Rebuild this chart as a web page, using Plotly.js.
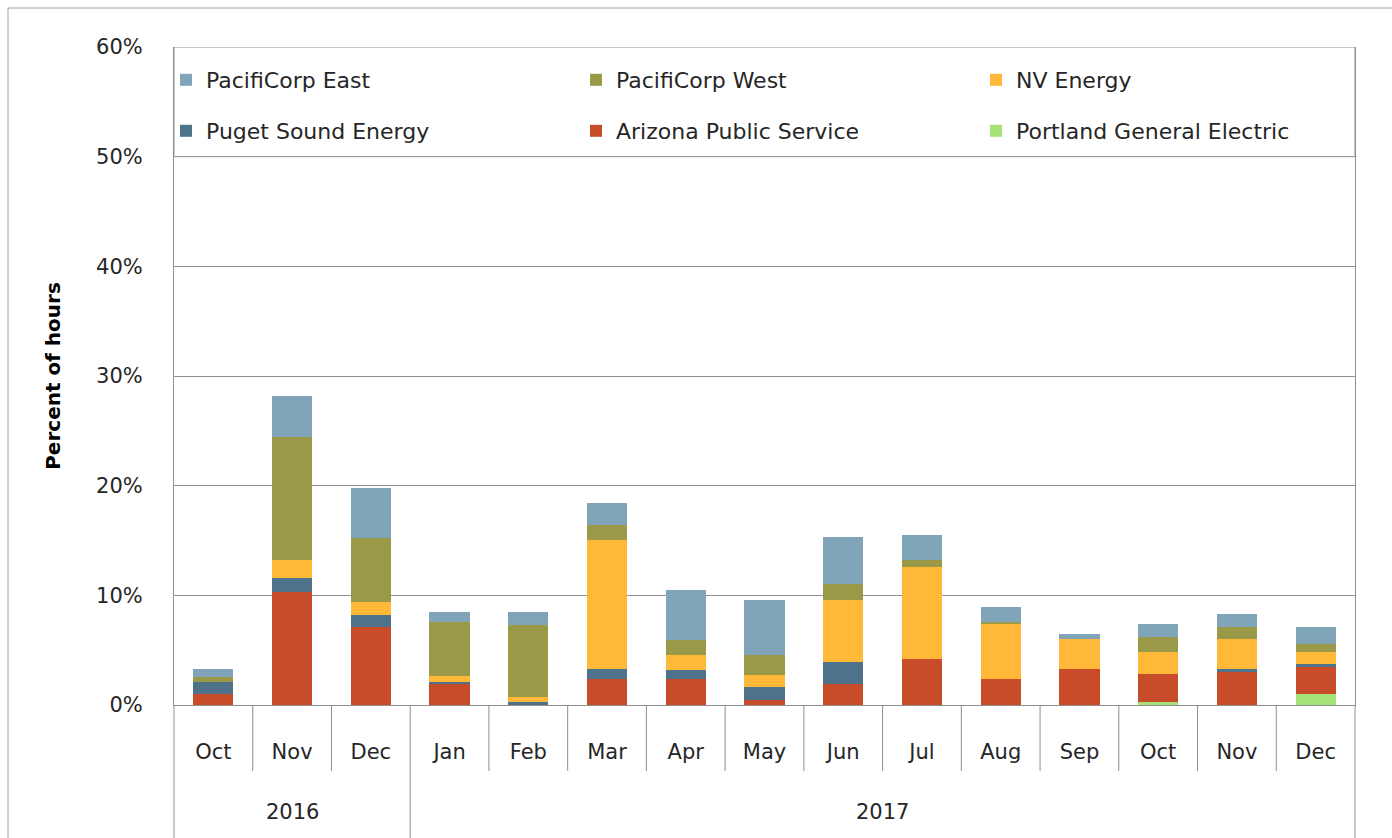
<!DOCTYPE html>
<html>
<head>
<meta charset="utf-8">
<script src="https://cdn.plot.ly/plotly-3.0.1.min.js"></script>
<style>html,body{margin:0;padding:0;background:#fff;}#chart{width:1392px;height:838px;}</style>
</head>
<body>
<div id="chart"></div>
<script>
var months = ['Oct','Nov','Dec','Jan','Feb','Mar','Apr','May','Jun','Jul','Aug','Sep','Oct','Nov','Dec'];
var years = ['2016','2016','2016','2017','2017','2017','2017','2017','2017','2017','2017','2017','2017','2017','2017'];
var portlandGE = [0,0,0,0,0,0,0,0,0,0,0,0,0.3,0,1.0];
var arizonaPS = [1.0,10.3,7.1,1.9,0,2.35,2.35,0.5,1.9,4.15,2.35,3.25,2.5,3.05,2.5];
var pugetSE = [1.1,1.3,1.1,0.2,0.3,0.9,0.85,1.1,2.05,0,0,0,0,0.25,0.25];
var nvEnergy = [0,1.6,1.15,0.5,0.43,11.8,1.4,1.15,5.65,8.4,5.0,2.75,2.05,2.7,1.1];
var pacWest = [0.45,11.2,5.9,5.0,6.6,1.35,1.35,1.8,1.4,0.65,0.22,0.05,1.35,1.1,0.67];
var pacEast = [0.75,3.8,4.55,0.9,1.13,2.05,4.55,5.0,4.3,2.3,1.35,0.45,1.2,1.2,1.6];
var yTicks = [0,10,20,30,40,50,60];
var yTickLabels = ['0%','10%','20%','30%','40%','50%','60%'];

// unique category keys built from months + years
var xCats = months.map(function(m,i){ return m + ' ' + years[i]; });

// legend grid: row 1 = PacifiCorp East, PacifiCorp West, NV Energy; row 2 = Puget, Arizona, Portland
var series = [
  {name:'Portland General Electric', y:portlandGE, color:'#a4e278', legend:'legend6'},
  {name:'Arizona Public Service', y:arizonaPS, color:'#c84b2a', legend:'legend5'},
  {name:'Puget Sound Energy', y:pugetSE, color:'#4d7289', legend:'legend4'},
  {name:'NV Energy', y:nvEnergy, color:'#ffb837', legend:'legend3'},
  {name:'PacifiCorp West', y:pacWest, color:'#999948', legend:'legend2'},
  {name:'PacifiCorp East', y:pacEast, color:'#80a5b9', legend:'legend'}
];

var traces = series.map(function(s){
  return {
    type:'bar', name:s.name, x:xCats, y:s.y,
    marker:{color:s.color, line:{width:0}},
    legend:s.legend, hoverinfo:'name+y'
  };
});

var gray = '#8f8f8f';
var plotW = 1181, plotH = 658, left = 174, bottom = 705;
var nCat = months.length;
var shapes = [];
// outer frame
shapes.push({type:'rect', xref:'paper', yref:'paper', x0:(8-left)/plotW, x1:1.2, y0:-0.5, y1:(bottom-8)/plotH, line:{color:'#a0a0a0', width:1}, fillcolor:'rgba(0,0,0,0)', layer:'below'});
// legend box
shapes.push({type:'rect', xref:'paper', yref:'y', x0:0, x1:1, y0:50, y1:60, line:{color:gray, width:1}, fillcolor:'#ffffff', layer:'above'});
// month / year separators
for (var i=1;i<nCat;i++){
  var isYear = (years[i] !== years[i-1]);
  shapes.push({type:'line', xref:'paper', yref:'paper', x0:i/nCat, x1:i/nCat, y0:0, y1: isYear ? -0.21 : -66/plotH, line:{color:gray, width:1}});
}
shapes.push({type:'line', xref:'paper', yref:'paper', x0:0, x1:0, y0:0, y1:-0.21, line:{color:gray, width:1}});
shapes.push({type:'line', xref:'paper', yref:'paper', x0:1, x1:1, y0:0, y1:-0.21, line:{color:gray, width:1}});

var fontFam = '"DejaVu Sans", "Open Sans", sans-serif';

// year labels centred under their month groups
var annotations = [];
var uniqYears = years.filter(function(y,i){ return years.indexOf(y) === i; });
uniqYears.forEach(function(yr){
  var first = years.indexOf(yr), last = years.lastIndexOf(yr);
  annotations.push({xref:'paper', yref:'paper', x:(first + last + 1)/2/nCat, y:(bottom-812)/plotH, xanchor:'center', yanchor:'middle', showarrow:false, text:yr, font:{family:fontFam, size:21, color:'#262626'}});
});

function legendAt(px, py){
  return {orientation:'v', xanchor:'left', yanchor:'middle', x:(px-left)/plotW, y:(bottom-py)/plotH,
    bgcolor:'rgba(0,0,0,0)', borderwidth:0, font:{family:fontFam, size:22, color:'#262626'}};
}

var layout = {
  width:1392, height:838,
  margin:{l:174, r:37, t:47, b:133},
  paper_bgcolor:'#ffffff', plot_bgcolor:'#ffffff',
  font:{family:fontFam, size:21, color:'#262626'},
  barmode:'stack', bargap:0.49,
  showlegend:true,
  legend: legendAt(166, 80),
  legend2: legendAt(576, 80),
  legend3: legendAt(976, 80),
  legend4: legendAt(166, 131),
  legend5: legendAt(576, 131),
  legend6: legendAt(976, 131),
  xaxis:{type:'category', tickmode:'array', tickvals:xCats, ticktext:months, showgrid:false, showline:true, linecolor:gray, linewidth:1, ticks:'', ticklabelstandoff:28, tickfont:{family:fontFam, size:21, color:'#262626'}},
  yaxis:{range:[0,60], tickmode:'array', tickvals:yTicks, ticktext:yTickLabels, showgrid:true, gridcolor:gray, gridwidth:1, showline:true, mirror:true, linecolor:gray, linewidth:1, zeroline:false, ticks:'', ticklabelstandoff:26, tickfont:{family:fontFam, size:21, color:'#262626'},
    title:{text:'<b>Percent of hours</b>', standoff:30, font:{family:fontFam, size:20, color:'#000000'}}},
  shapes:shapes,
  annotations:annotations
};

Plotly.newPlot('chart', traces, layout, {displayModeBar:false, staticPlot:true});
</script>
</body>
</html>
